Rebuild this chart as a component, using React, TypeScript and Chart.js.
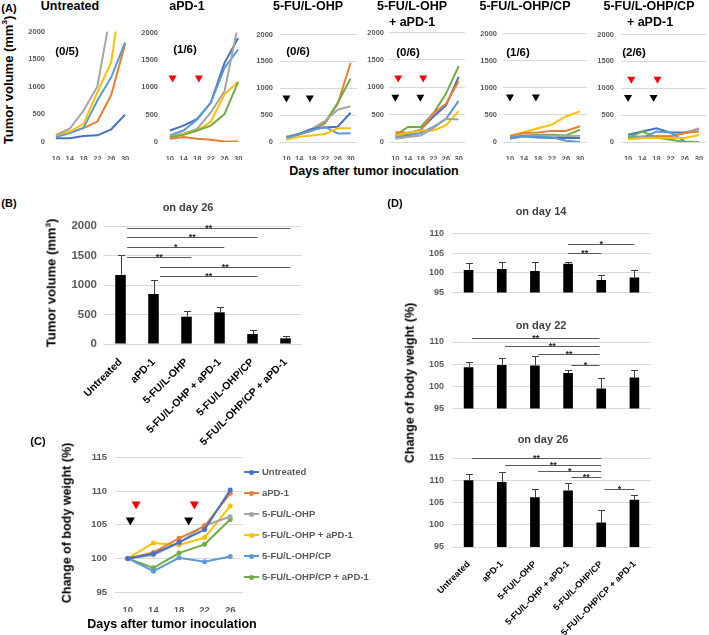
import React, { useEffect, useRef } from "react";
import { Chart, registerables } from "chart.js";
Chart.register(...registerables);

const FONT = "'Liberation Sans', Arial, Helvetica, sans-serif";
const TICK = "#595959";
const GRID = "#D9D9D9";
const BLUE = "#4472C4";
const ORANGE = "#ED7D31";
const GRAY = "#A5A5A5";
const YELLOW = "#FFC000";
const LBLUE = "#5B9BD5";
const GREEN = "#70AD47";

// ---------- Panel A: individual tumour growth ----------
const days = ["10", "14", "18", "22", "26", "30"];

const untreatedColors = [GRAY, YELLOW, LBLUE, ORANGE, BLUE];
const untreatedMice = [
  [130, 240, 570, 1005, 2400, 3500],
  [120, 190, 330, 900, 1445, 3150],
  [90, 160, 260, 750, 1175, 1805],
  [110, 170, 250, 370, 855, 1775],
  [70, 70, 110, 120, 230, 495],
];

const apd1Colors = [ORANGE, GREEN, YELLOW, GRAY, LBLUE, BLUE];
const apd1Mice = [
  [60, 90, 60, 40, 10, 10],
  [90, 130, 210, 300, 510, 1100],
  [90, 140, 210, 370, 870, 1100],
  [100, 150, 240, 540, 930, 2150],
  [120, 210, 410, 720, 1355, 1690],
  [210, 300, 420, 720, 1445, 1900],
];

const foxColors = [YELLOW, LBLUE, BLUE, GRAY, GREEN, ORANGE];
const foxMice = [
  [40, 100, 120, 150, 255, 255],
  [80, 140, 220, 280, 160, 165],
  [80, 150, 240, 270, 285, 545],
  [100, 150, 250, 390, 600, 665],
  [100, 150, 240, 360, 730, 1180],
  [90, 150, 210, 345, 710, 1470],
];

const foxPdColors = [GRAY, YELLOW, LBLUE, ORANGE, BLUE, GREEN];
const foxPdMice = [
  [60, 90, 120, 255, 425, 410],
  [120, 165, 210, 210, 305, 565],
  [100, 120, 165, 275, 425, 750],
  [180, 170, 210, 520, 700, 1110],
  [90, 150, 225, 460, 670, 1190],
  [120, 275, 275, 520, 885, 1385],
];

const cpColors = [LBLUE, BLUE, GRAY, GREEN, ORANGE, YELLOW];
const cpMice = [
  [60, 105, 100, 85, 25, 0],
  [75, 105, 85, 75, 75, 75],
  [85, 120, 115, 115, 105, 115],
  [75, 115, 135, 135, 120, 225],
  [105, 165, 175, 205, 205, 290],
  [115, 180, 255, 320, 470, 565],
];

const cpPdColors = [YELLOW, GREEN, LBLUE, ORANGE, GRAY, BLUE];
const cpPdMice = [
  [55, 75, 75, 75, 75, 130],
  [75, 195, 85, 40, 0, 0],
  [105, 75, 195, 175, 10, 0],
  [60, 75, 105, 105, 165, 195],
  [90, 105, 105, 105, 165, 255],
  [135, 195, 255, 175, 175, 240],
];

// treatment markers: [day, value, colour]
const apd1Marks: [number, number, string][] = [[10.8, 1150, "#FF0000"], [18.5, 1150, "#FF0000"]];
const foxMarks: [number, number, string][] = [[10, 800, "#000"], [17.3, 800, "#000"]];
const foxPdMarks: [number, number, string][] = [[10, 800, "#000"], [17.9, 800, "#000"], [10.9, 1150, "#FF0000"], [18.8, 1150, "#FF0000"]];
const cpMarks: [number, number, string][] = [[10, 810, "#000"], [17.4, 810, "#000"]];
const cpPdMarks: [number, number, string][] = [[10, 810, "#000"], [17.2, 810, "#000"], [10.9, 1150, "#FF0000"], [18.3, 1150, "#FF0000"]];

// ---------- Panel B ----------
const groups = ["Untreated", "aPD-1", "5-FU/L-OHP", "5-FU/L-OHP + aPD-1", "5-FU/L-OHP/CP", "5-FU/L-OHP/CP + aPD-1"];
const volumeDay26 = [1170, 847, 463, 537, 170, 96];
const volumeDay26Err = [338, 238, 102, 96, 67, 40];
const volumeSig: [number, number, number, string][] = [
  [0, 5, 1972, "**"], [0, 4, 1808, "**"], [0, 3, 1638, "*"], [0, 2, 1480, "**"], [1, 5, 1311, "**"], [1, 4, 1158, "**"],
];

// ---------- Panel C ----------
const weightDays = ["10", "14", "18", "22", "26"];
const weightUntreated = [100, 100.7, 102.4, 104.3, 110.2];
const weightApd1 = [100, 100.9, 103.0, 104.8, 109.7];
const weightFox = [100, 100.5, 102.3, 104.9, 106.2];
const weightFoxPd = [100, 102.3, 102.0, 103.1, 107.8];
const weightCp = [100, 98.1, 100.1, 99.5, 100.3];
const weightCpPd = [100, 98.6, 100.8, 102.1, 105.8];
const weightSeries = [weightUntreated, weightApd1, weightFox, weightFoxPd, weightCp, weightCpPd];
const weightColors = [BLUE, ORANGE, GRAY, YELLOW, LBLUE, GREEN];
const weightMarks: [number, number, string][] = [[10.4, 105.5, "#000"], [19.5, 105.5, "#000"], [11.3, 107.9, "#FF0000"], [20.4, 107.9, "#FF0000"]];

// ---------- Panel D ----------
const bw14 = [100.7, 101.0, 100.5, 102.3, 98.2, 98.8];
const bw14Err = [1.9, 1.8, 2.3, 0.5, 1.3, 1.9];
const bw14Sig: [number, number, number, string][] = [[3, 5, 107.4, "*"], [3, 4, 105.0, "**"]];
const bw22 = [104.3, 104.8, 104.7, 103.0, 99.5, 102.0];
const bw22Err = [1.3, 1.6, 2.2, 0.8, 2.5, 1.6];
const bw22Sig: [number, number, number, string][] = [[0, 4, 110.8, "**"], [1, 4, 109.0, "**"], [2, 4, 107.4, "**"], [3, 4, 104.9, "*"]];
const bw26 = [110.0, 109.6, 106.2, 107.7, 100.5, 105.6];
const bw26Err = [1.4, 2.2, 1.9, 1.6, 2.8, 1.1];
const bw26Sig: [number, number, number, string][] = [[0, 4, 115.1, "**"], [1, 4, 113.4, "**"], [2, 4, 112.0, "*"], [3, 4, 110.7, "**"], [4, 5, 108.0, "*"]];

const dayToIndex = (d: number) => (d - 10) / 4;

// ---------- annotation plugin (error bars, brackets, markers) ----------
const annotPlugin = {
  id: "annot",
  afterDatasetsDraw(chart: any, _a: any, opts: any) {
    const ctx = chart.ctx;
    const xs = chart.scales.x;
    const ys = chart.scales.y;
    ctx.save();
    if (opts.errors) {
      const meta = chart.getDatasetMeta(0);
      const vals = chart.data.datasets[0].data;
      ctx.strokeStyle = "#404040";
      ctx.lineWidth = 1;
      meta.data.forEach((el: any, i: number) => {
        const x = Math.round(el.x) + 0.5;
        const y0 = ys.getPixelForValue(vals[i]);
        const y1 = Math.round(ys.getPixelForValue(vals[i] + opts.errors[i])) + 0.5;
        ctx.beginPath();
        ctx.moveTo(x, y0);
        ctx.lineTo(x, y1);
        ctx.moveTo(x - opts.cap, y1);
        ctx.lineTo(x + opts.cap, y1);
        ctx.stroke();
      });
    }
    if (opts.brackets) {
      const off = opts.offset || [0, 0];
      ctx.font = `bold ${opts.starSize || 9}px ${FONT}`;
      ctx.textAlign = "center";
      ctx.textBaseline = "alphabetic";
      for (const [a, b, v, s] of opts.brackets) {
        const x1 = xs.getPixelForValue(a + off[0]);
        const x2 = xs.getPixelForValue(b + off[1]);
        const y = Math.round(ys.getPixelForValue(v)) + 0.5;
        ctx.strokeStyle = "#595959";
        ctx.lineWidth = 1;
        ctx.beginPath();
        ctx.moveTo(x1, y);
        ctx.lineTo(x2, y);
        ctx.stroke();
        ctx.fillStyle = "#262626";
        ctx.fillText(s, (x1 + x2) / 2, y + 2);
      }
    }
    if (opts.marks) {
      const w = opts.markW || 8;
      const h = opts.markH || 7;
      for (const [d, v, c] of opts.marks) {
        const x = xs.getPixelForValue(dayToIndex(d));
        const y = ys.getPixelForValue(v);
        ctx.fillStyle = c;
        ctx.beginPath();
        ctx.moveTo(x - w / 2, y - h / 2);
        ctx.lineTo(x + w / 2, y - h / 2);
        ctx.lineTo(x, y + h / 2);
        ctx.closePath();
        ctx.fill();
      }
    }
    ctx.restore();
  },
};

type Box = { left: number; top: number; width: number; height: number };
function box(pl: number, pt: number, pr: number, pb: number, yW: number, padT: number, padR: number, xH: number): Box {
  return {
    left: Math.round(pl - yW),
    top: Math.round(pt - padT),
    width: Math.round(yW + (pr - pl) + padR),
    height: Math.round(padT + (pb - pt) + xH),
  };
}

const font = (size: number) => ({ family: FONT, size, weight: "bold" as const });
const plain = (v: any) => String(v);

function tumorConfig(series: number[][], colors: string[], tickPad: number, grid: boolean, marks: [number, number, string][]) {
  return {
    type: "line",
    data: {
      labels: days,
      datasets: series.map((d, i) => ({
        data: d,
        borderColor: colors[i],
        backgroundColor: colors[i],
        borderWidth: 2,
        pointRadius: 0,
        tension: 0,
        fill: false,
      })),
    },
    options: {
      responsive: false,
      animation: false,
      devicePixelRatio: 1,
      layout: { padding: { top: 8, right: 3, left: 0, bottom: 0 } },
      plugins: { legend: { display: false }, tooltip: { enabled: false }, annot: { marks } },
      scales: {
        x: {
          type: "category",
          offset: true,
          grid: { display: false },
          border: { display: false },
          ticks: { font: font(7.5), color: TICK, padding: 4, autoSkip: false, maxRotation: 0 },
          afterFit: (s: any) => { s.height = 18; },
        },
        y: {
          min: 0,
          max: 2000,
          grid: { display: grid, color: GRID, drawTicks: false },
          border: { display: false },
          ticks: { stepSize: 500, font: font(7.5), color: TICK, padding: tickPad, callback: plain },
          afterFit: (s: any) => { s.width = 30; },
        },
      },
    },
    plugins: [annotPlugin],
  };
}

function barConfig(values: number[], errors: number[], sig: [number, number, number, string][], opt: any) {
  return {
    type: "bar",
    data: {
      labels: groups,
      datasets: [{ data: values, backgroundColor: "#000", borderWidth: 0, barPercentage: opt.barPct, categoryPercentage: 1 }],
    },
    options: {
      responsive: false,
      animation: false,
      devicePixelRatio: 1,
      layout: { padding: { top: opt.padT, right: opt.padR, left: 0, bottom: 0 } },
      plugins: {
        legend: { display: false },
        tooltip: { enabled: false },
        annot: { errors, cap: 3.5, brackets: sig, offset: opt.offset, starSize: 9 },
      },
      scales: {
        x: {
          grid: { display: false },
          border: { display: false },
          ticks: {
            display: opt.showX,
            font: font(opt.xFont),
            color: "#000",
            padding: 4,
            autoSkip: false,
            minRotation: 45,
            maxRotation: 45,
          },
          afterFit: (s: any) => { s.height = opt.xH; },
        },
        y: {
          min: opt.min,
          max: opt.max,
          grid: { color: GRID, drawTicks: false },
          border: { display: false },
          ticks: { stepSize: opt.step, font: font(opt.yFont), color: TICK, padding: opt.yPad, callback: plain },
          afterFit: (s: any) => { s.width = opt.yW; },
        },
      },
    },
    plugins: [annotPlugin],
  };
}

function weightConfig() {
  return {
    type: "line",
    data: {
      labels: weightDays,
      datasets: weightSeries.map((d, i) => ({
        data: d,
        borderColor: weightColors[i],
        backgroundColor: weightColors[i],
        pointBackgroundColor: weightColors[i],
        pointBorderWidth: 0,
        pointRadius: 2.5,
        borderWidth: 2,
        tension: 0,
        fill: false,
      })),
    },
    options: {
      responsive: false,
      animation: false,
      devicePixelRatio: 1,
      layout: { padding: { top: 8, right: 6, left: 0, bottom: 0 } },
      plugins: { legend: { display: false }, tooltip: { enabled: false }, annot: { marks: weightMarks, markW: 9, markH: 8 } },
      scales: {
        x: {
          type: "category",
          offset: true,
          grid: { display: false },
          border: { display: false },
          ticks: { font: font(9.5), color: TICK, padding: 5, maxRotation: 0 },
          afterFit: (s: any) => { s.height = 20; },
        },
        y: {
          min: 95,
          max: 115,
          grid: { color: GRID, drawTicks: false },
          border: { display: false },
          ticks: { stepSize: 5, font: font(9.5), color: TICK, padding: 8, callback: plain },
          afterFit: (s: any) => { s.width = 50; },
        },
      },
    },
    plugins: [annotPlugin],
  };
}

function ChartBox({ area, make }: { area: Box; make: () => any }) {
  const ref = useRef<HTMLCanvasElement>(null);
  useEffect(() => {
    const ch = new Chart(ref.current as HTMLCanvasElement, make());
    return () => ch.destroy();
  }, []);
  return (
    <canvas
      ref={ref}
      width={area.width}
      height={area.height}
      style={{ position: "absolute", left: area.left, top: area.top, width: area.width, height: area.height }}
    />
  );
}

function Txt({ x, y, size, color = "#000", rot = 0, children }: any) {
  return (
    <div
      style={{
        position: "absolute",
        left: x,
        top: y,
        transform: `translate(-50%, -50%) rotate(${rot}deg)`,
        fontFamily: FONT,
        fontSize: size,
        fontWeight: 700,
        color,
        whiteSpace: "nowrap",
        lineHeight: 1,
      }}
    >
      {children}
    </div>
  );
}

const legendNames = groups;
const legendY = [472, 493, 514, 535, 556, 577];

export default function App() {
  const aT = 30.5;
  const aB = 141;
  const dL = 451.7;
  const dR = 650.5;
  return (
    <div style={{ position: "absolute", left: 0, top: 0, width: 709, height: 635, overflow: "hidden", background: "#fff" }}>
      {/* Panel A */}
      <ChartBox area={box(49, aT, 132, aB, 30, 8, 3, 18)} make={() => tumorConfig(untreatedMice, untreatedColors, 4, false, [])} />
      <ChartBox area={box(163, aT, 245, aB, 30, 8, 3, 18)} make={() => tumorConfig(apd1Mice, apd1Colors, 5, false, apd1Marks)} />
      <ChartBox area={box(280, aT, 357, aB, 30, 8, 3, 18)} make={() => tumorConfig(foxMice, foxColors, 7, true, foxMarks)} />
      <ChartBox area={box(389, aT, 465, aB, 30, 8, 3, 18)} make={() => tumorConfig(foxPdMice, foxPdColors, 5, true, foxPdMarks)} />
      <ChartBox area={box(503, aT, 587, aB, 30, 8, 3, 18)} make={() => tumorConfig(cpMice, cpColors, 6, true, cpMarks)} />
      <ChartBox area={box(621, aT, 706, aB, 30, 8, 3, 18)} make={() => tumorConfig(cpPdMice, cpPdColors, 7, true, cpPdMarks)} />

      <Txt x={9} y={8} size={11}>(A)</Txt>
      <Txt x={8} y={80} size={13} rot={-90}>
        Tumor volume (mm<sup style={{ fontSize: 8, verticalAlign: "super", lineHeight: 0 }}>3</sup>)
      </Txt>
      <Txt x={70} y={6} size={12.5}>Untreated</Txt>
      <Txt x={187} y={6} size={12.5}>aPD-1</Txt>
      <Txt x={308} y={6} size={12.5}>5-FU/L-OHP</Txt>
      <Txt x={412} y={6} size={12.5}>5-FU/L-OHP</Txt>
      <Txt x={412} y={21.5} size={12.5}>+ aPD-1</Txt>
      <Txt x={525} y={6} size={12.5}>5-FU/L-OHP/CP</Txt>
      <Txt x={649} y={6} size={12.5}>5-FU/L-OHP/CP</Txt>
      <Txt x={650} y={21.5} size={12.5}>+ aPD-1</Txt>
      <Txt x={67} y={52} size={11.5}>(0/5)</Txt>
      <Txt x={185} y={50} size={11.5}>(1/6)</Txt>
      <Txt x={298} y={52} size={11.5}>(0/6)</Txt>
      <Txt x={408} y={53} size={11.5}>(0/6)</Txt>
      <Txt x={518} y={53} size={11.5}>(1/6)</Txt>
      <Txt x={634} y={53} size={11.5}>(2/6)</Txt>
      <Txt x={374} y={171} size={12.5}>Days after tumor inoculation</Txt>

      {/* Panel B */}
      <ChartBox
        area={box(103.8, 226, 302.2, 344, 60, 20, 10, 110)}
        make={() =>
          barConfig(volumeDay26, volumeDay26Err, volumeSig, {
            barPct: 0.32, padT: 20, padR: 10, showX: true, xFont: 10.5, xH: 110,
            min: 0, max: 2000, step: 500, yFont: 11.5, yPad: 7, yW: 60, offset: [0.2, 0.15],
          })
        }
      />
      <Txt x={9} y={203} size={11}>(B)</Txt>
      <Txt x={188} y={207} size={11} color="#404040">on day 26</Txt>
      <Txt x={51} y={283} size={13} rot={-90}>
        Tumor volume (mm<sup style={{ fontSize: 8, verticalAlign: "super", lineHeight: 0 }}>3</sup>)
      </Txt>

      {/* Panel C */}
      <ChartBox area={box(115, 451.7, 243, 591.7, 50, 8, 6, 20)} make={weightConfig} />
      <Txt x={38} y={441} size={11}>(C)</Txt>
      <Txt x={67} y={523} size={12.5} rot={-90}>Change of body weight (%)</Txt>
      <Txt x={172} y={624} size={12.5}>Days after tumor inoculation</Txt>
      {legendNames.map((n, i) => (
        <React.Fragment key={n}>
          <div style={{ position: "absolute", left: 244, top: legendY[i] - 1, width: 15, height: 2, background: weightColors[i] }} />
          <div style={{ position: "absolute", left: 249, top: legendY[i] - 2.5, width: 5, height: 5, borderRadius: "50%", background: weightColors[i] }} />
          <div style={{ position: "absolute", left: 262, top: legendY[i], transform: "translateY(-50%)", fontFamily: FONT, fontSize: 9.5, fontWeight: 700, color: TICK, whiteSpace: "nowrap", lineHeight: 1 }}>{n}</div>
        </React.Fragment>
      ))}

      {/* Panel D */}
      <ChartBox
        area={box(dL, 228.3, dR, 304.3, 50, 8, 6, 2)}
        make={() =>
          barConfig(bw14, bw14Err, bw14Sig, {
            barPct: 0.29, padT: 8, padR: 6, showX: false, xFont: 9, xH: 2,
            min: 95, max: 110, step: 5, yFont: 9, yPad: 8, yW: 50, offset: [0, 0],
          })
        }
      />
      <ChartBox
        area={box(dL, 341.7, dR, 420, 50, 14, 6, 2)}
        make={() =>
          barConfig(bw22, bw22Err, bw22Sig, {
            barPct: 0.29, padT: 14, padR: 6, showX: false, xFont: 9, xH: 2,
            min: 95, max: 110, step: 5, yFont: 9, yPad: 8, yW: 50, offset: [0.1, -0.05],
          })
        }
      />
      <ChartBox
        area={box(dL, 458.3, dR, 547.3, 50, 14, 6, 95)}
        make={() =>
          barConfig(bw26, bw26Err, bw26Sig, {
            barPct: 0.29, padT: 14, padR: 6, showX: true, xFont: 9, xH: 95,
            min: 95, max: 115, step: 5, yFont: 9, yPad: 8, yW: 50, offset: [0.1, 0],
          })
        }
      />
      <Txt x={395} y={203} size={11}>(D)</Txt>
      <Txt x={541} y={211} size={11} color="#404040">on day 14</Txt>
      <Txt x={541} y={325} size={11} color="#404040">on day 22</Txt>
      <Txt x={543} y={439} size={11} color="#404040">on day 26</Txt>
      <Txt x={410} y={383} size={12.5} rot={-90}>Change of body weight (%)</Txt>
    </div>
  );
}
